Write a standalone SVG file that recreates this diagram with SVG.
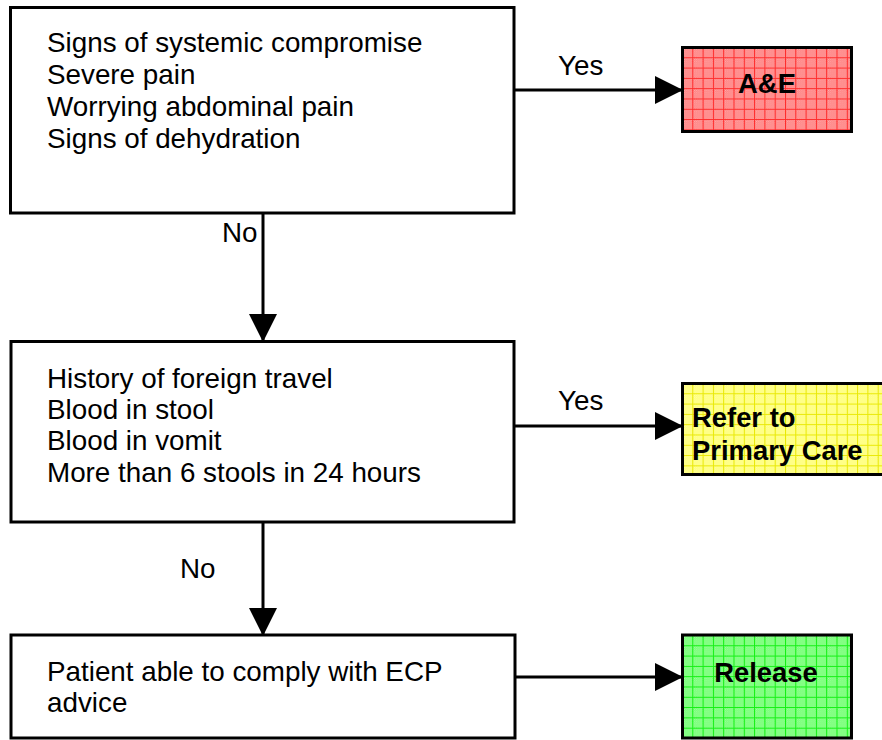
<svg xmlns="http://www.w3.org/2000/svg" width="882" height="740" viewBox="0 0 882 740">
<style>
.box{fill:#ffffff;stroke:#000000;stroke-width:3}
.cbox{stroke:#000000;stroke-width:3}
.t{font-family:"Liberation Sans",Arial,sans-serif;font-size:27.8px;fill:#000000}
.b{font-family:"Liberation Sans",Arial,sans-serif;font-size:27.4px;font-weight:bold;fill:#000000}
.c{stroke:#000000;stroke-width:3;fill:none}
</style>
<defs>
<marker id="ah" markerUnits="userSpaceOnUse" markerWidth="28" markerHeight="28" refX="27" refY="14" orient="auto">
<path d="M0,0 L28,14 L0,28 z" fill="#000000"/>
</marker>
<pattern id="dR" width="2" height="2" patternUnits="userSpaceOnUse"><rect width="2" height="2" fill="#ff7070"/><rect width="1" height="1" fill="#ffb0b0"/><rect x="1" y="1" width="1" height="1" fill="#ffb0b0"/></pattern>
<pattern id="dY" width="2" height="2" patternUnits="userSpaceOnUse"><rect width="2" height="2" fill="#ffff60"/><rect width="1" height="1" fill="#ffffb0"/><rect x="1" y="1" width="1" height="1" fill="#ffffb0"/></pattern>
<pattern id="dG" width="2" height="2" patternUnits="userSpaceOnUse"><rect width="2" height="2" fill="#60ff60"/><rect width="1" height="1" fill="#a8ffa8"/><rect x="1" y="1" width="1" height="1" fill="#a8ffa8"/></pattern>
<pattern id="pR" x="682" y="47" width="10.3" height="10.3" patternUnits="userSpaceOnUse"><rect width="10.3" height="10.3" fill="url(#dR)"/><path d="M0,0.5 H10.3 M0.5,0 V10.3" stroke="#ff2a2a" stroke-width="1"/></pattern>
<pattern id="pY" x="682" y="383" width="10.3" height="10.3" patternUnits="userSpaceOnUse"><rect width="10.3" height="10.3" fill="url(#dY)"/><path d="M0,0.5 H10.3 M0.5,0 V10.3" stroke="#e8e800" stroke-width="1"/></pattern>
<pattern id="pG" x="682" y="635" width="10.3" height="10.3" patternUnits="userSpaceOnUse"><rect width="10.3" height="10.3" fill="url(#dG)"/><path d="M0,0.5 H10.3 M0.5,0 V10.3" stroke="#10f010" stroke-width="1"/></pattern>
</defs>
<rect width="882" height="740" fill="#ffffff"/>
<g id="connectors">
<line class="c" x1="263" y1="213" x2="263" y2="341" marker-end="url(#ah)"/>
<line class="c" x1="263" y1="522" x2="263" y2="635" marker-end="url(#ah)"/>
<line class="c" x1="514" y1="90" x2="682" y2="90" marker-end="url(#ah)"/>
<line class="c" x1="514" y1="426" x2="682" y2="426" marker-end="url(#ah)"/>
<line class="c" x1="515" y1="677" x2="682" y2="677" marker-end="url(#ah)"/>
<text class="t" x="558" y="75">Yes</text>
<text class="t" x="558" y="410">Yes</text>
<text class="t" x="222" y="242">No</text>
<text class="t" x="180" y="578">No</text>
</g>
<g id="q1">
<rect class="box" x="10.5" y="7.5" width="503.5" height="205.5"/>
<text class="t" x="47" y="52">Signs of systemic compromise</text>
<text class="t" x="47" y="84">Severe pain</text>
<text class="t" x="47" y="116">Worrying abdominal pain</text>
<text class="t" x="47" y="148">Signs of dehydration</text>
</g>
<g id="q2">
<rect class="box" x="11" y="341.5" width="503" height="180.5"/>
<text class="t" x="47" y="388">History of foreign travel</text>
<text class="t" x="47" y="419">Blood in stool</text>
<text class="t" x="47" y="450">Blood in vomit</text>
<text class="t" x="47" y="482">More than 6 stools in 24 hours</text>
</g>
<g id="q3">
<rect class="box" x="11" y="635" width="504" height="103"/>
<text class="t" x="47" y="681">Patient able to comply with ECP</text>
<text class="t" x="47" y="712">advice</text>
</g>
<g id="ae">
<rect class="cbox" x="682.5" y="47.5" width="169" height="84" fill="url(#pR)"/>
<text class="b" x="767" y="93" text-anchor="middle">A&amp;E</text>
</g>
<g id="primary">
<rect class="cbox" x="682.5" y="383.5" width="210" height="91" fill="url(#pY)"/>
<text class="b" x="692" y="427">Refer to</text>
<text class="b" x="692" y="460">Primary Care</text>
</g>
<g id="release">
<rect class="cbox" x="682.5" y="635" width="169" height="103" fill="url(#pG)"/>
<text class="b" x="766" y="682" text-anchor="middle">Release</text>
</g>
</svg>
